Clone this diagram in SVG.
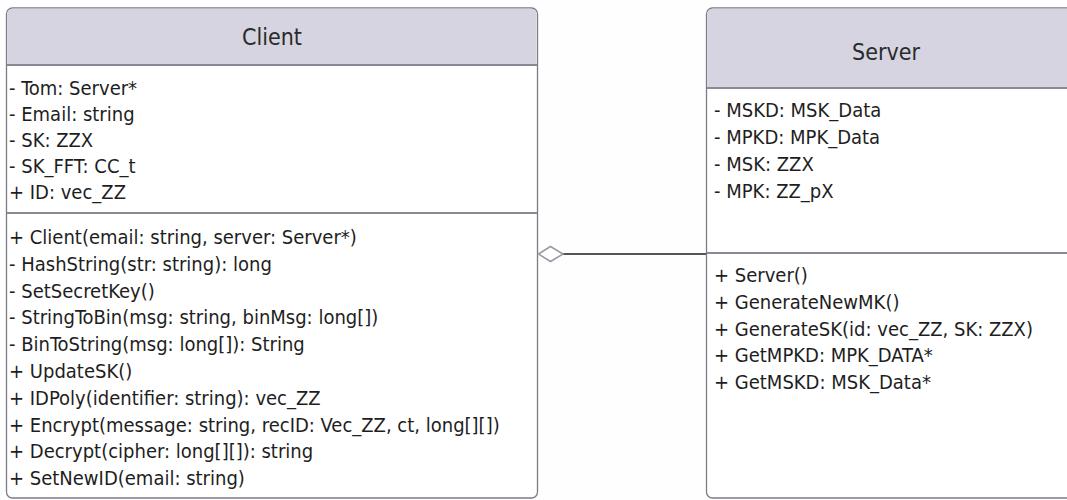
<svg xmlns="http://www.w3.org/2000/svg" width="1067" height="500" viewBox="0 0 1067 500">
  <style>
    .box { fill: #ffffff; stroke: #7c7b86; stroke-width: 1.3; }
    .head { fill: #d6d4e0; }
    .sep { stroke: #8a8994; stroke-width: 2; }
    .title { font-family: "DejaVu Sans Condensed", "DejaVu Sans", sans-serif; font-size: 23px; fill: #2a2a2a; text-anchor: middle; }
    .member { font-family: "DejaVu Sans Condensed", "DejaVu Sans", sans-serif; font-size: 20px; fill: #1e1e1e; }
    .link { stroke: #555555; stroke-width: 2; fill: none; }
    .diamond { fill: #ffffff; stroke: #9a99a3; stroke-width: 1.5; }
  </style>
  <rect width="1067" height="500" fill="#fefefe"/>

  <!-- Client class -->
  <g id="client">
    <rect class="box" x="6.5" y="8" width="531" height="490" rx="6"/>
    <path class="head" d="M7.2,64 V14 a5.5,5.5 0 0 1 5.5,-5.5 H531 a5.5,5.5 0 0 1 5.5,5.5 V64 Z"/>
    <line class="sep" x1="7" y1="65" x2="537" y2="65"/>
    <line class="sep" x1="7" y1="213" x2="537" y2="213" stroke-width="1.3"/>
    <text class="title" x="272" y="45">Client</text>
    <text class="member" x="9" y="95">- Tom: Server*</text>
    <text class="member" x="9" y="121">- Email: string</text>
    <text class="member" x="9" y="147">- SK: ZZX</text>
    <text class="member" x="9" y="173">- SK_FFT: CC_t</text>
    <text class="member" x="9" y="199">+ ID: vec_ZZ</text>
    <text class="member" x="9" y="244">+ Client(email: string, server: Server*)</text>
    <text class="member" x="9" y="271">- HashString(str: string): long</text>
    <text class="member" x="9" y="298">- SetSecretKey()</text>
    <text class="member" x="9" y="324">- StringToBin(msg: string, binMsg: long[])</text>
    <text class="member" x="9" y="351">- BinToString(msg: long[]): String</text>
    <text class="member" x="9" y="378">+ UpdateSK()</text>
    <text class="member" x="9" y="405">+ IDPoly(identifier: string): vec_ZZ</text>
    <text class="member" x="9" y="432">+ Encrypt(message: string, recID: Vec_ZZ, ct, long[][])</text>
    <text class="member" x="9" y="458">+ Decrypt(cipher: long[][]): string</text>
    <text class="member" x="9" y="485">+ SetNewID(email: string)</text>
  </g>

  <!-- Server class (runs past the right edge) -->
  <g id="server">
    <rect class="box" x="706.5" y="8" width="380" height="490" rx="6"/>
    <path class="head" d="M707.2,87 V14 a5.5,5.5 0 0 1 5.5,-5.5 H1070 V87 Z"/>
    <line class="sep" x1="707" y1="88" x2="1067" y2="88"/>
    <line class="sep" x1="707" y1="253" x2="1067" y2="253" stroke-width="1.3"/>
    <text class="title" x="886" y="60">Server</text>
    <text class="member" x="714" y="117">- MSKD: MSK_Data</text>
    <text class="member" x="714" y="144">- MPKD: MPK_Data</text>
    <text class="member" x="714" y="171">- MSK: ZZX</text>
    <text class="member" x="714" y="198">- MPK: ZZ_pX</text>
    <text class="member" x="714" y="282">+ Server()</text>
    <text class="member" x="714" y="309">+ GenerateNewMK()</text>
    <text class="member" x="714" y="336">+ GenerateSK(id: vec_ZZ, SK: ZZX)</text>
    <text class="member" x="714" y="362">+ GetMPKD: MPK_DATA*</text>
    <text class="member" x="714" y="389">+ GetMSKD: MSK_Data*</text>
  </g>

  <!-- Aggregation: Client holds a Server -->
  <g id="connectors">
    <line class="link" x1="563" y1="254" x2="706" y2="254"/>
    <path class="diamond" d="M538.5,254 L550.5,246.5 L563,254 L550.5,261.5 Z"/>
  </g>
</svg>
